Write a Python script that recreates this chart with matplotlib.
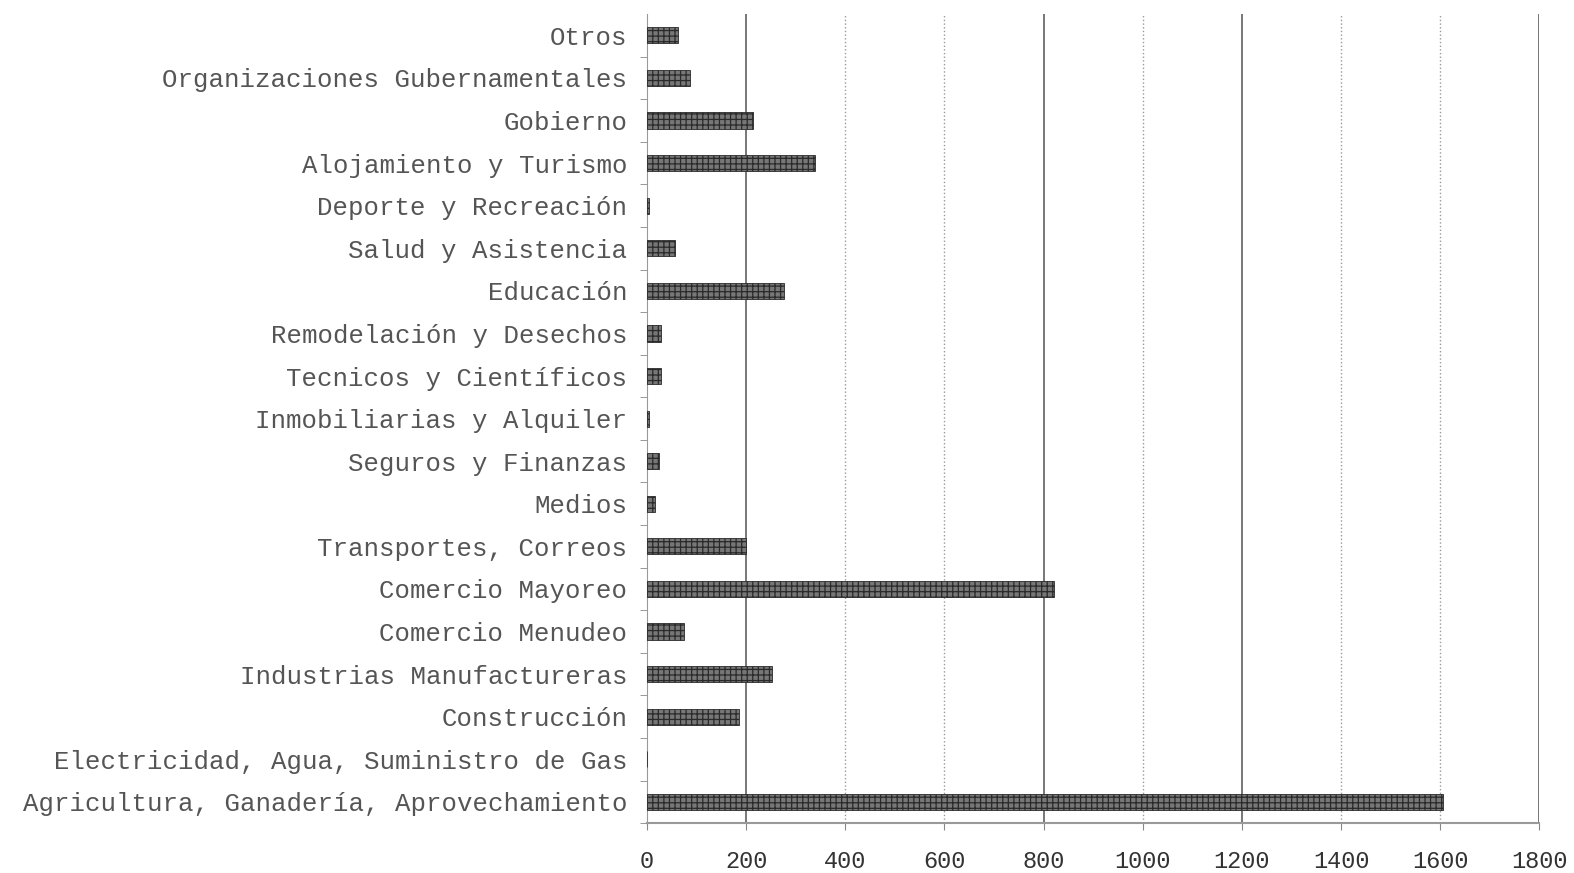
import matplotlib
matplotlib.use('Agg')
import matplotlib.pyplot as plt

# categories, bottom to top
categories = [
    'Agricultura, Ganadería, Aprovechamiento',
    'Electricidad, Agua, Suministro de Gas',
    'Construcción',
    'Industrias Manufactureras',
    'Comercio Menudeo',
    'Comercio Mayoreo',
    'Transportes, Correos',
    'Medios',
    'Seguros y Finanzas',
    'Inmobiliarias y Alquiler',
    'Tecnicos y Científicos',
    'Remodelación y Desechos',
    'Educación',
    'Salud y Asistencia',
    'Deporte y Recreación',
    'Alojamiento y Turismo',
    'Gobierno',
    'Organizaciones Gubernamentales',
    'Otros',
]
values = [1605, 0, 186, 253, 75, 822, 200, 16, 24, 4, 28, 28, 276, 57, 5, 340, 213, 87, 63]
xticks = [0, 200, 400, 600, 800, 1000, 1200, 1400, 1600, 1800]

plt.rcParams['font.family'] = ['Liberation Mono', 'DejaVu Sans']
plt.rcParams['hatch.linewidth'] = 0.9

fig = plt.figure(figsize=(15.74, 8.73), dpi=100)
ax = fig.add_axes([0.411, 0.057, 0.567, 0.927])

pos = list(range(len(categories)))
ax.barh(pos, values, height=0.38, color='#777777', edgecolor='#2a2a2a',
        hatch='+++', linewidth=0.6, zorder=3)

ax.set_xlim(0, 1800)
ax.set_ylim(-0.5, len(categories) - 0.5)
ax.set_xticks(xticks)
ax.set_yticks(pos)
ax.set_yticklabels(categories, fontsize=18.5, color='#555555', va='center_baseline')
ax.tick_params(axis='y', length=0, pad=14)
ax.set_yticks([p + 0.5 for p in pos[:-1]] + [-0.5], minor=True)
ax.tick_params(axis='y', which='minor', length=5, color='#888888')
ax.tick_params(axis='x', labelsize=17, length=5, color='#888888', pad=14,
               labelcolor='#333333')

# vertical gridlines
for x in xticks[1:]:
    if x in (200, 800, 1200, 1800):
        ax.axvline(x, color='#777777', linewidth=1.4, zorder=1)
    else:
        ax.axvline(x, color='#999999', linewidth=1.0, linestyle=':', zorder=1)

for s in ['top', 'right']:
    ax.spines[s].set_visible(False)
ax.spines['left'].set_color('#999999')
ax.spines['bottom'].set_color('#999999')
ax.spines['bottom'].set_linewidth(1.5)

plt.savefig('out.png', dpi=100)
